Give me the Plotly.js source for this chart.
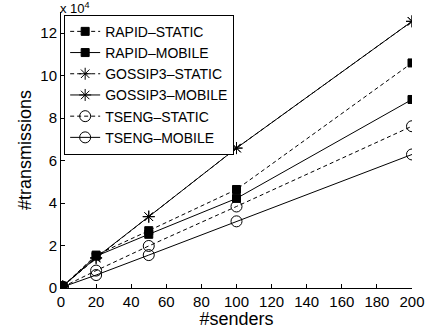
<!DOCTYPE html>
<html>
<head>
<meta charset="utf-8">
<script src="https://cdn.plot.ly/plotly-3.0.1.min.js"></script>
<style>html,body{margin:0;padding:0;background:#fff;}#chart{width:435px;height:329px;}</style>
</head>
<body>
<div id="chart"></div>
<script>
const senders = [1, 20, 50, 100, 200];
const rapidStatic = [0.08, 1.55, 2.70, 4.64, 10.60];
const rapidMobile = [0.08, 1.50, 2.53, 4.22, 8.88];
const gossipStatic = [0.08, 1.40, 3.36, 6.59, 12.56];
const gossipMobile = [0.08, 1.43, 3.36, 6.59, 12.56];
const tsengStatic = [0.05, 0.82, 1.98, 3.84, 7.62];
const tsengMobile = [0.05, 0.61, 1.55, 3.14, 6.29];
const seriesNames = ['RAPID–STATIC', 'RAPID–MOBILE', 'GOSSIP3–STATIC', 'GOSSIP3–MOBILE', 'TSENG–STATIC', 'TSENG–MOBILE'];
const xTickVals = [0, 20, 40, 60, 80, 100, 120, 140, 160, 180, 200];
const yTickVals = [0, 2, 4, 6, 8, 10, 12];

const seriesData = [rapidStatic, rapidMobile, gossipStatic, gossipMobile, tsengStatic, tsengMobile];
const styles = [
  {dash: '4px,3px', symbol: 'square', size: 8},
  {dash: 'solid', symbol: 'square', size: 8},
  {dash: '4px,3px', symbol: 'asterisk-open', size: 10},
  {dash: 'solid', symbol: 'asterisk-open', size: 10},
  {dash: '4px,3px', symbol: 'circle-open', size: 11},
  {dash: 'solid', symbol: 'circle-open', size: 11}
];

const traces = seriesData.map((ys, i) => ({
  x: senders, y: ys, name: seriesNames[i], type: 'scatter', mode: 'lines+markers',
  line: {color: '#000', width: 1, dash: styles[i].dash},
  marker: {color: '#000', symbol: styles[i].symbol, size: styles[i].size, line: {color: '#000', width: 1}}
}));

const font = {family: 'Liberation Sans, Arial, Helvetica, sans-serif', color: '#000'};

const layout = {
  width: 435, height: 329,
  margin: {l: 61, r: 23, t: 12, b: 41},
  paper_bgcolor: '#fff', plot_bgcolor: '#fff',
  font: Object.assign({size: 15}, font),
  showlegend: true,
  legend: {
    x: 0.009, y: 0.99, xanchor: 'left', yanchor: 'top',
    bgcolor: '#fff', bordercolor: '#000', borderwidth: 1,
    font: Object.assign({size: 14}, font),
    tracegroupgap: 0, itemwidth: 30
  },
  xaxis: {
    range: [0, 200], tickvals: xTickVals, ticks: 'inside', ticklen: 4, tickwidth: 1, tickcolor: '#000',
    showline: true, linecolor: '#000', linewidth: 1, showgrid: false, zeroline: false,
    tickfont: Object.assign({size: 15}, font),
    title: {text: '#senders', font: Object.assign({size: 18}, font), standoff: 0}
  },
  yaxis: {
    range: [0, 13], tickvals: yTickVals, ticks: 'inside', ticklen: 4, tickwidth: 1, tickcolor: '#000',
    showline: true, linecolor: '#000', linewidth: 1, showgrid: false, zeroline: false,
    tickfont: Object.assign({size: 15}, font),
    title: {text: '#transmissions', font: Object.assign({size: 18}, font), standoff: 4}
  },
  annotations: [{
    text: 'x 10<sup>4</sup>', xref: 'paper', yref: 'paper', x: 0, y: 1, xanchor: 'left', yanchor: 'bottom',
    xshift: -3, yshift: -6, showarrow: false, font: Object.assign({size: 13}, font)
  }]
};

Plotly.newPlot('chart', traces, layout, {displayModeBar: false, staticPlot: true});
</script>
</body>
</html>
